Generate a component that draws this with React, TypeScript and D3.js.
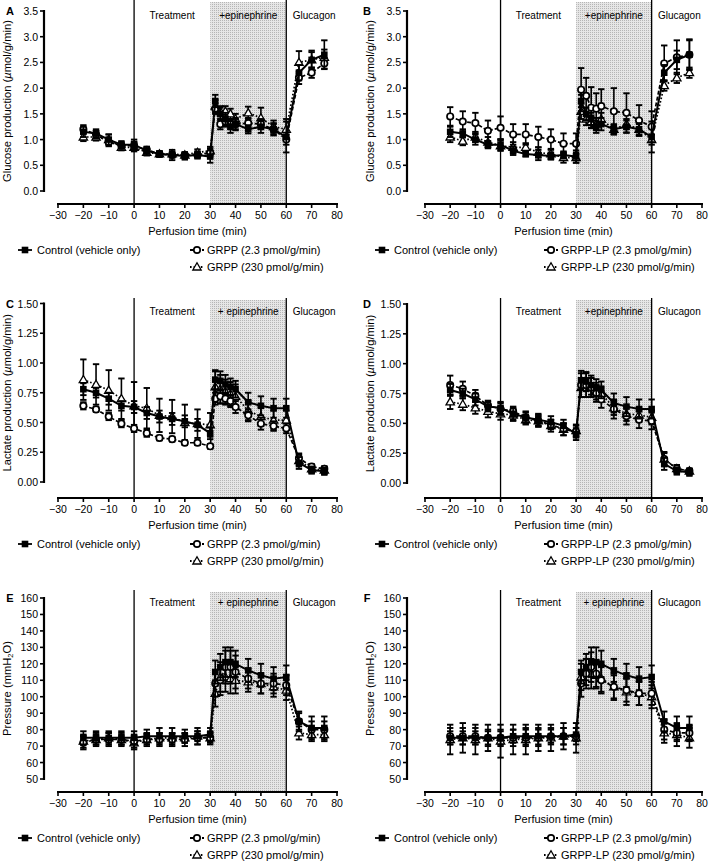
import React from "react";
import * as d3 from "d3";

// ---------- DATA ----------
const times = [-20, -15, -10, -5, 0, 5, 10, 15, 20, 25, 30, 32, 34, 36, 38, 40, 45, 50, 55, 60, 65, 70, 75];
const xTickValues = [-30, -20, -10, 0, 10, 20, 30, 40, 50, 60, 70, 80];

// Glucose production (µmol/g/min)
const glucoseControl = [1.15, 1.12, 1.0, 0.9, 0.9, 0.78, 0.72, 0.7, 0.68, 0.7, 0.67, 1.75, 1.5, 1.4, 1.25, 1.3, 1.2, 1.25, 1.2, 1.05, 2.3, 2.55, 2.65];
const glucoseControlErr = [0.1, 0.08, 0.1, 0.07, 0.1, 0.08, 0.05, 0.1, 0.07, 0.07, 0.12, 0.12, 0.12, 0.12, 0.12, 0.12, 0.08, 0.12, 0.12, 0.3, 0.15, 0.18, 0.28];
const glucoseGrpp23 = [1.2, 1.1, 0.95, 0.88, 0.88, 0.8, 0.72, 0.7, 0.7, 0.7, 0.75, 1.6, 1.3, 1.35, 1.3, 1.3, 1.32, 1.3, 1.2, 1.0, 2.2, 2.3, 2.48];
const glucoseGrpp23Err = [0.08, 0.07, 0.08, 0.06, 0.08, 0.06, 0.05, 0.05, 0.05, 0.05, 0.08, 0.1, 0.1, 0.1, 0.1, 0.1, 0.1, 0.1, 0.1, 0.1, 0.12, 0.1, 0.1];
const glucoseGrpp230 = [1.05, 1.05, 1.0, 0.85, 0.85, 0.75, 0.72, 0.72, 0.7, 0.75, 0.78, 1.65, 1.55, 1.55, 1.5, 1.4, 1.52, 1.42, 1.25, 1.2, 2.5, 2.55, 2.6];
const glucoseGrpp230Err = [0.08, 0.07, 0.1, 0.06, 0.08, 0.06, 0.05, 0.05, 0.05, 0.06, 0.08, 0.12, 0.1, 0.1, 0.1, 0.1, 0.12, 0.2, 0.12, 0.2, 0.22, 0.15, 0.15];
const glucoseLp23 = [1.45, 1.35, 1.32, 1.17, 1.23, 1.1, 1.1, 1.05, 1.0, 0.92, 0.92, 1.97, 1.85, 1.62, 1.6, 1.65, 1.55, 1.52, 1.37, 1.25, 2.48, 2.6, 2.65];
const glucoseLp23Err = [0.18, 0.2, 0.2, 0.2, 0.22, 0.2, 0.2, 0.2, 0.2, 0.2, 0.2, 0.42, 0.35, 0.4, 0.3, 0.33, 0.45, 0.38, 0.3, 0.3, 0.35, 0.33, 0.3];
const glucoseLp230 = [1.05, 0.97, 1.05, 0.95, 0.88, 0.85, 0.85, 0.75, 0.72, 0.65, 0.65, 1.55, 1.4, 1.35, 1.3, 1.4, 1.2, 1.3, 1.2, 1.0, 2.05, 2.2, 2.3];
const glucoseLp230Err = [0.1, 0.08, 0.1, 0.1, 0.1, 0.1, 0.08, 0.1, 0.1, 0.1, 0.1, 0.15, 0.12, 0.12, 0.12, 0.12, 0.1, 0.1, 0.1, 0.1, 0.1, 0.1, 0.1];

// Lactate production (µmol/g/min)
const lactateControl = [0.78, 0.75, 0.7, 0.64, 0.63, 0.58, 0.55, 0.53, 0.51, 0.48, 0.41, 0.86, 0.85, 0.82, 0.8, 0.78, 0.67, 0.64, 0.62, 0.62, 0.16, 0.1, 0.09];
const lactateControlErr = [0.05, 0.04, 0.05, 0.04, 0.05, 0.05, 0.05, 0.05, 0.05, 0.05, 0.05, 0.08, 0.08, 0.08, 0.07, 0.07, 0.08, 0.08, 0.08, 0.08, 0.05, 0.03, 0.03];
const lactateGrpp23 = [0.64, 0.61, 0.55, 0.49, 0.45, 0.41, 0.37, 0.36, 0.33, 0.33, 0.3, 0.7, 0.72, 0.7, 0.68, 0.63, 0.56, 0.49, 0.47, 0.45, 0.2, 0.13, 0.11];
const lactateGrpp23Err = [0.03, 0.02, 0.03, 0.03, 0.03, 0.03, 0.02, 0.02, 0.02, 0.02, 0.02, 0.05, 0.06, 0.05, 0.05, 0.05, 0.05, 0.05, 0.04, 0.04, 0.04, 0.02, 0.02];
const lactateGrpp230 = [0.86, 0.82, 0.77, 0.7, 0.64, 0.62, 0.56, 0.55, 0.5, 0.49, 0.48, 0.8, 0.78, 0.76, 0.74, 0.72, 0.6, 0.55, 0.52, 0.52, 0.18, 0.11, 0.1];
const lactateGrpp230Err = [0.17, 0.17, 0.17, 0.17, 0.2, 0.17, 0.14, 0.14, 0.15, 0.12, 0.1, 0.13, 0.12, 0.1, 0.1, 0.1, 0.08, 0.08, 0.08, 0.08, 0.05, 0.03, 0.03];
const lactateLp23 = [0.82, 0.79, 0.73, 0.65, 0.62, 0.6, 0.55, 0.52, 0.49, 0.45, 0.43, 0.82, 0.82, 0.8, 0.75, 0.7, 0.62, 0.56, 0.53, 0.52, 0.2, 0.12, 0.1];
const lactateLp23Err = [0.08, 0.06, 0.05, 0.04, 0.05, 0.04, 0.04, 0.04, 0.04, 0.05, 0.05, 0.1, 0.1, 0.08, 0.07, 0.07, 0.08, 0.07, 0.07, 0.07, 0.06, 0.03, 0.02];
const lactateLp230 = [0.68, 0.66, 0.63, 0.6, 0.58, 0.57, 0.53, 0.52, 0.48, 0.45, 0.44, 0.8, 0.8, 0.8, 0.77, 0.75, 0.63, 0.58, 0.57, 0.55, 0.2, 0.12, 0.1];
const lactateLp230Err = [0.06, 0.05, 0.05, 0.05, 0.05, 0.05, 0.04, 0.05, 0.05, 0.05, 0.05, 0.08, 0.08, 0.08, 0.07, 0.06, 0.06, 0.06, 0.06, 0.06, 0.05, 0.03, 0.02];

// Pressure (mmH2O)
const pressureControl = [75, 75, 75, 75, 75, 76, 76, 76, 76, 76, 77, 115, 118, 121, 121, 120, 116, 113, 111, 112, 85, 81, 81];
const pressureControlErr = [4, 4, 4, 4, 4, 4, 5, 5, 4, 5, 4, 7, 8, 9, 9, 8, 7, 7, 7, 7, 6, 7, 7];
const pressureGrpp23 = [72, 74, 74, 74, 73, 74, 74, 74, 74, 75, 75, 108, 110, 118, 118, 115, 111, 108, 108, 107, 85, 80, 80];
const pressureGrpp23Err = [4, 4, 4, 4, 4, 4, 4, 4, 4, 4, 4, 8, 9, 10, 10, 10, 6, 6, 6, 6, 5, 5, 5];
const pressureGrpp230 = [73, 74, 75, 74, 72, 74, 75, 75, 75, 76, 75, 102, 112, 112, 111, 110, 109, 108, 106, 104, 78, 77, 77];
const pressureGrpp230Err = [4, 3, 3, 3, 4, 3, 3, 3, 3, 3, 3, 8, 9, 9, 9, 8, 6, 6, 6, 6, 4, 4, 4];
const pressureLp23 = [76, 76, 76, 75, 75, 75, 75, 75, 76, 76, 76, 108, 114, 118, 114, 110, 106, 104, 102, 102, 80, 78, 78];
const pressureLp23Err = [5, 5, 5, 5, 5, 5, 5, 5, 5, 5, 5, 8, 9, 9, 8, 8, 7, 7, 7, 7, 6, 5, 5];
const pressureLp230 = [74, 75, 74, 75, 73, 74, 74, 75, 75, 76, 75, 112, 115, 114, 113, 111, 106, 103, 102, 100, 78, 77, 75];
const pressureLp230Err = [9, 9, 9, 8, 10, 9, 9, 8, 8, 8, 9, 8, 8, 9, 8, 8, 8, 8, 7, 7, 6, 7, 6];

const glucoseTicks = [0, 0.5, 1.0, 1.5, 2.0, 2.5, 3.0, 3.5];
const lactateTicks = [0, 0.25, 0.5, 0.75, 1.0, 1.25, 1.5];
const pressureTicks = [50, 60, 70, 80, 90, 100, 110, 120, 130, 140, 150, 160];

const legendControl = "Control (vehicle only)";
const legendGrpp = ["GRPP (2.3 pmol/g/min)", "GRPP (230 pmol/g/min)"];
const legendLp = ["GRPP-LP (2.3 pmol/g/min)", "GRPP-LP (230 pmol/g/min)"];

// ---------- DRAWING ----------
const FONT = "'Liberation Sans', Arial, Helvetica, sans-serif";

type Kind = "square" | "circle" | "triangle";
const triPath = d3.symbol().type(d3.symbolTriangle).size(30)() as string;

function Marker({ kind, cx, cy }: { kind: Kind; cx: number; cy: number }) {
  if (kind === "square") return <rect x={cx - 3.3} y={cy - 3.3} width={6.6} height={6.6} fill="#000" />;
  if (kind === "circle") return <circle cx={cx} cy={cy} r={3.2} fill="#fff" stroke="#000" strokeWidth={1.7} />;
  return <path d={triPath} transform={`translate(${cx},${cy + 0.6})`} fill="#fff" stroke="#000" strokeWidth={1.3} />;
}

const dashFor: Record<Kind, string | undefined> = { square: undefined, circle: "4,2", triangle: "1.6,2" };

function Panel(props: any) {
  const { letter, left, yTop, yBottom, axisY, vTop, yDomain, yTicks, fmt, yTitle, series, names, epiLabel, textY } = props;
  const x0 = left ? 58 : 425;
  const x1 = left ? 337 : 702;
  const axisX = left ? 44 : 407;
  const x = d3.scaleLinear().domain([-30, 80]).range([x0, x1]);
  const y = d3.scaleLinear().domain(yDomain).range([yBottom, yTop]);
  const line = d3.line<number>().x((_, i) => x(times[i])).y((d) => y(d));
  const legX1 = left ? 25 : 382;
  const legX2 = left ? 197 : 551;
  const legY1 = axisY + 46;
  const legY2 = axisY + 63;
  return (
    <g fontFamily={FONT}>
      {/* shaded epinephrine period */}
      <rect x={x(30)} y={vTop + 2} width={x(60) - x(30)} height={axisY - vTop - 2} fill="url(#stipple)" />
      <line x1={x(0)} x2={x(0)} y1={vTop} y2={axisY} stroke="#000" strokeWidth={1.3} />
      <line x1={x(60)} x2={x(60)} y1={vTop} y2={axisY} stroke="#000" strokeWidth={1.3} />
      <text x={x(15)} y={textY} fontSize={10} textAnchor="middle" dominantBaseline="central">Treatment</text>
      <text x={x(45)} y={textY} fontSize={10} textAnchor="middle" dominantBaseline="central">{epiLabel}</text>
      <text x={x(71)} y={textY} fontSize={10} textAnchor="middle" dominantBaseline="central">Glucagon</text>

      {/* y axis */}
      <line x1={axisX} x2={axisX} y1={yTop - 1} y2={yBottom + 1} stroke="#000" strokeWidth={2.2} />
      {yTicks.map((t: number) => (
        <g key={t}>
          <line x1={axisX - 4} x2={axisX} y1={y(t)} y2={y(t)} stroke="#000" strokeWidth={1.6} />
          <text x={axisX - 6} y={y(t)} fontSize={10.5} textAnchor="end" dominantBaseline="central">{fmt(t)}</text>
        </g>
      ))}
      <text transform={`translate(${axisX - 37},${(yTop + yBottom) / 2}) rotate(-90)`} fontSize={11.2} textAnchor="middle" dominantBaseline="central">
        {yTitle}
      </text>
      <text x={left ? 10 : 367} y={yTop} fontSize={11} fontWeight="bold" textAnchor="middle" dominantBaseline="central">{letter}</text>

      {/* x axis */}
      <line x1={x(-30) - 1} x2={x(80) + 1} y1={axisY} y2={axisY} stroke="#000" strokeWidth={2.2} />
      {xTickValues.map((t) => (
        <g key={t}>
          <line x1={x(t)} x2={x(t)} y1={axisY} y2={axisY + 4} stroke="#000" strokeWidth={1.6} />
          <text x={x(t)} y={axisY + 10.5} fontSize={10.5} textAnchor="middle" dominantBaseline="central">
            {t < 0 ? "\u2212" + Math.abs(t) : String(t)}
          </text>
        </g>
      ))}
      <text x={x(25)} y={axisY + 27} fontSize={11} textAnchor="middle" dominantBaseline="central">Perfusion time (min)</text>

      {/* series: draw triangles, circles, control on top */}
      {[2, 1, 0].map((si) => {
        const s = series[si];
        return (
          <g key={si}>
            <path d={line(s.values) as string} fill="none" stroke="#000" strokeWidth={s.kind === "square" ? 2 : 1.7} strokeDasharray={dashFor[s.kind as Kind]} />
            {s.values.map((v: number, i: number) => {
              const cx = x(times[i]);
              const e = s.errs[i];
              return (
                <g key={i}>
                  <line x1={cx} x2={cx} y1={y(v - e)} y2={y(v + e)} stroke="#000" strokeWidth={1.6} />
                  <line x1={cx - 3.2} x2={cx + 3.2} y1={y(v + e)} y2={y(v + e)} stroke="#000" strokeWidth={1.9} />
                  <line x1={cx - 3.2} x2={cx + 3.2} y1={y(v - e)} y2={y(v - e)} stroke="#000" strokeWidth={1.9} />
                  <Marker kind={s.kind} cx={cx} cy={y(v)} />
                </g>
              );
            })}
          </g>
        );
      })}

      {/* legend */}
      <line x1={legX1 - 7} x2={legX1 + 7} y1={legY1} y2={legY1} stroke="#000" strokeWidth={1.8} />
      <Marker kind="square" cx={legX1} cy={legY1} />
      <text x={legX1 + 12} y={legY1} fontSize={11} dominantBaseline="central">{legendControl}</text>
      <line x1={legX2 - 7} x2={legX2 + 7} y1={legY1} y2={legY1} stroke="#000" strokeWidth={1.8} strokeDasharray="4,2" />
      <Marker kind="circle" cx={legX2} cy={legY1} />
      <text x={legX2 + 10} y={legY1} fontSize={11} dominantBaseline="central">{names[0]}</text>
      <line x1={legX2 - 7} x2={legX2 + 7} y1={legY2} y2={legY2} stroke="#000" strokeWidth={1.8} strokeDasharray="1.6,2" />
      <Marker kind="triangle" cx={legX2} cy={legY2} />
      <text x={legX2 + 10} y={legY2} fontSize={11} dominantBaseline="central">{names[1]}</text>
    </g>
  );
}

const glucoseTitle = (
  <>
    Glucose production (<tspan fontStyle="italic">µ</tspan>mol/g/min)
  </>
);
const lactateTitle = (
  <>
    Lactate production (<tspan fontStyle="italic">µ</tspan>mol/g/min)
  </>
);
const pressureTitle = (
  <>
    Pressure (mmH<tspan dy={3} fontSize={7.5}>2</tspan>
    <tspan dy={-3}>O)</tspan>
  </>
);

const f1 = (t: number) => t.toFixed(1);
const f2 = (t: number) => t.toFixed(2);
const f0 = (t: number) => String(t);

export default function App() {
  const mk = (a: number[], ae: number[], b: number[], be: number[], c: number[], ce: number[]) => [
    { values: a, errs: ae, kind: "square" },
    { values: b, errs: be, kind: "circle" },
    { values: c, errs: ce, kind: "triangle" },
  ];
  return (
    <svg width={709} height={863} style={{ position: "absolute", left: 0, top: 0, background: "#fff" }}>
      <defs>
        <pattern id="stipple" width={2} height={2} patternUnits="userSpaceOnUse">
          <rect width={2} height={2} fill="#e6e6e6" />
          <rect width={1} height={1} fill="#b5b5b5" />
        </pattern>
      </defs>
      <rect width={709} height={863} fill="#fff" />
      <Panel letter="A" left yTop={11} yBottom={191} axisY={204} vTop={0} textY={15} yDomain={[0, 3.5]} yTicks={glucoseTicks} fmt={f1}
        yTitle={glucoseTitle} epiLabel="+epinephrine" names={legendGrpp}
        series={mk(glucoseControl, glucoseControlErr, glucoseGrpp23, glucoseGrpp23Err, glucoseGrpp230, glucoseGrpp230Err)} />
      <Panel letter="B" left={false} yTop={11} yBottom={191} axisY={204} vTop={0} textY={15} yDomain={[0, 3.5]} yTicks={glucoseTicks} fmt={f1}
        yTitle={glucoseTitle} epiLabel="+epinephrine" names={legendLp}
        series={mk(glucoseControl, glucoseControlErr, glucoseLp23, glucoseLp23Err, glucoseLp230, glucoseLp230Err)} />
      <Panel letter="C" left yTop={303.5} yBottom={482} axisY={498} vTop={298} textY={311} yDomain={[0, 1.5]} yTicks={lactateTicks} fmt={f2}
        yTitle={lactateTitle} epiLabel="+ epinephrine" names={legendGrpp}
        series={mk(lactateControl, lactateControlErr, lactateGrpp23, lactateGrpp23Err, lactateGrpp230, lactateGrpp230Err)} />
      <Panel letter="D" left={false} yTop={304} yBottom={483} axisY={498} vTop={298} textY={311} yDomain={[0, 1.5]} yTicks={lactateTicks} fmt={f2}
        yTitle={lactateTitle} epiLabel="+epinephrine" names={legendLp}
        series={mk(lactateControl, lactateControlErr, lactateLp23, lactateLp23Err, lactateLp230, lactateLp230Err)} />
      <Panel letter="E" left yTop={598} yBottom={779} axisY={792} vTop={590} textY={602} yDomain={[50, 160]} yTicks={pressureTicks} fmt={f0}
        yTitle={pressureTitle} epiLabel="+ epinephrine" names={legendGrpp}
        series={mk(pressureControl, pressureControlErr, pressureGrpp23, pressureGrpp23Err, pressureGrpp230, pressureGrpp230Err)} />
      <Panel letter="F" left={false} yTop={598} yBottom={779} axisY={792} vTop={590} textY={602} yDomain={[50, 160]} yTicks={pressureTicks} fmt={f0}
        yTitle={pressureTitle} epiLabel="+ epinephrine" names={legendLp}
        series={mk(pressureControl, pressureControlErr, pressureLp23, pressureLp23Err, pressureLp230, pressureLp230Err)} />
    </svg>
  );
}
